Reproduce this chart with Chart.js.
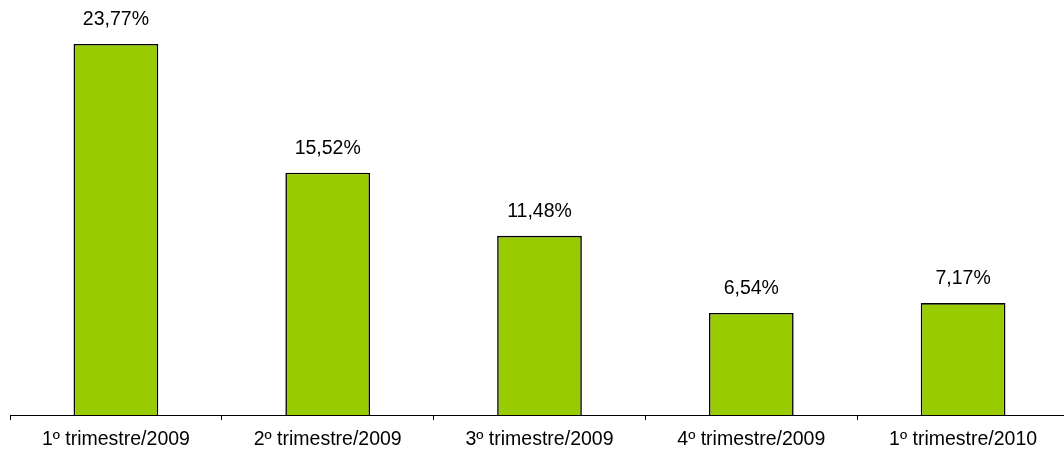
<!DOCTYPE html>
<html>
<head>
<meta charset="utf-8">
<script src="https://cdn.jsdelivr.net/npm/chart.js@4"></script>
<style>
  html, body { margin: 0; padding: 0; background: #fff; overflow: hidden; }
  #wrap { width: 1069px; height: 455px; }
</style>
</head>
<body>
<div id="wrap"><canvas id="chart"></canvas></div>
<script>
const categories = ["1º trimestre/2009", "2º trimestre/2009", "3º trimestre/2009", "4º trimestre/2009", "1º trimestre/2010"];
const values = [23.77, 15.52, 11.48, 6.54, 7.17];

const fmt = (v) => v.toFixed(2).replace(".", ",") + "%";

// draws the value text above every bar
const barLabels = {
  id: "barLabels",
  afterDatasetsDraw(chart) {
    const ctx = chart.ctx;
    const meta = chart.getDatasetMeta(0);
    ctx.save();
    ctx.font = "19.5px 'Liberation Sans', Arial, sans-serif";
    ctx.fillStyle = "#000";
    ctx.textAlign = "center";
    ctx.textBaseline = "alphabetic";
    meta.data.forEach((bar, i) => {
      ctx.fillText(fmt(values[i]), bar.x, bar.y - 19);
    });
    ctx.restore();
  },
};

new Chart(document.getElementById("chart"), {
  type: "bar",
  data: {
    labels: categories,
    datasets: [
      {
        data: values,
        backgroundColor: "#99cc00",
        borderColor: "#000",
        borderWidth: 1.6,
        barPercentage: 0.4,
        categoryPercentage: 1,
      },
    ],
  },
  options: {
    responsive: true,
    maintainAspectRatio: false,
    animation: false,
    layout: { padding: { left: 10, right: 0, top: 0, bottom: 0 } },
    plugins: { legend: { display: false }, tooltip: { enabled: false } },
    scales: {
      x: {
        offset: true,
        afterFit: (scale) => { scale.height = 40; },
        grid: {
          offset: true,
          drawOnChartArea: false,
          drawTicks: true,
          tickLength: 5,
          color: "#000",
        },
        border: { color: "#000", width: 1 },
        ticks: {
          color: "#000",
          padding: 8,
          maxRotation: 0,
          font: { family: "'Liberation Sans', Arial, sans-serif", size: 19.5 },
        },
      },
      y: {
        display: false,
        min: 0,
        max: 26.59,
      },
    },
  },
  plugins: [barLabels],
});
</script>
</body>
</html>
